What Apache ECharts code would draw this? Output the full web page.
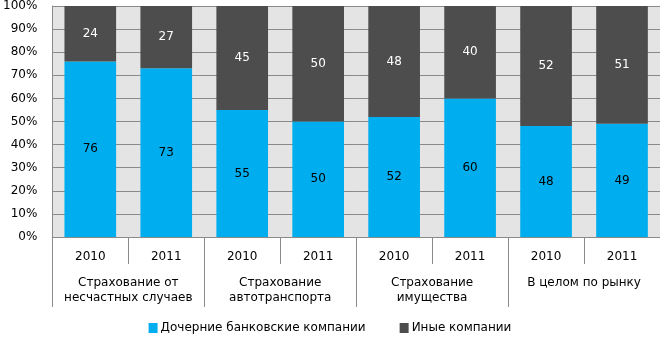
<!DOCTYPE html>
<html><head><meta charset="utf-8">
<script src="https://cdn.jsdelivr.net/npm/echarts@6/dist/echarts.min.js"></script>
<style>html,body{margin:0;padding:0;background:#fff}#c{width:660px;height:337px}</style>
</head><body><div id="c"></div>
<script>
var years = ['2010','2011','2010','2011','2010','2011','2010','2011'];
var groups = ['Страхование от\nнесчастных случаев','Страхование\nавтотранспорта','Страхование\nимущества','В целом по рынку'];
var bankShare = [76,73,55,50,52,60,48,49];
var otherShare = [24,27,45,50,48,40,52,51];
var seriesNames = ['Дочерние банковские компании','Иные компании'];
var yTicks = [0,10,20,30,40,50,60,70,80,90,100];

var font = 'DejaVu Sans';
var lineColor = '#8a8a8a';
var chart = echarts.init(document.getElementById('c'), null, {renderer:'canvas'});
chart.setOption({
  animation:false,
  textStyle:{fontFamily:font},
  grid:{left:49,right:0,top:5,bottom:100,show:true,backgroundColor:'#e4e4e4',borderWidth:0},
  legend:{top:322,left:'center',padding:0,itemWidth:9,itemHeight:10,itemGap:34,icon:'rect',
    textStyle:{fontFamily:font,fontSize:12,color:'#000',padding:[0,0,0,-2]},
    data:seriesNames},
  xAxis:[{
    type:'category',data:years,position:'bottom',
    axisLine:{show:true,lineStyle:{color:lineColor}},
    axisTick:{show:true,length:27,interval:0,lineStyle:{color:lineColor,width:1}},
    axisLabel:{color:'#000',fontSize:12,fontFamily:font,margin:14,interval:0}
  },{
    type:'category',data:groups,position:'bottom',
    axisLine:{show:false},
    axisTick:{show:true,length:70,interval:0,lineStyle:{color:lineColor,width:1}},
    axisLabel:{color:'#000',fontSize:12,fontFamily:font,margin:38,lineHeight:15,interval:0,verticalAlign:'top'}
  }],
  yAxis:{type:'value',min:0,max:100,interval:10,
    axisLine:{show:true,lineStyle:{color:lineColor}},
    axisTick:{show:false},
    splitLine:{lineStyle:{color:lineColor}},
    axisLabel:{color:'#000',fontSize:12,fontFamily:font,margin:15,formatter:function(v){return v+'%';}}
  },
  series:[{
    name:seriesNames[0],type:'bar',stack:'s',data:bankShare,barWidth:'68%',
    itemStyle:{color:'#00aeef'},
    label:{show:true,position:'inside',color:'#000',fontSize:12,fontFamily:font}
  },{
    name:seriesNames[1],type:'bar',stack:'s',data:otherShare,barWidth:'68%',
    itemStyle:{color:'#4d4d4d'},
    label:{show:true,position:'inside',color:'#fff',fontSize:12,fontFamily:font}
  }]
});
</script></body></html>
